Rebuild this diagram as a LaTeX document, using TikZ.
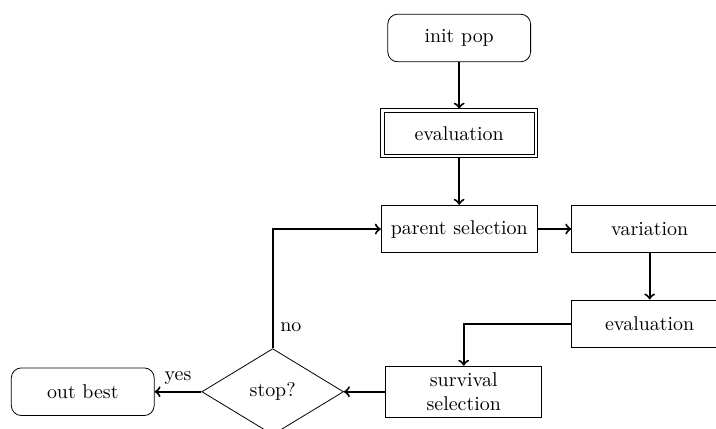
\documentclass[tikz,border=0pt]{standalone}
\usepackage{tikz}
\usetikzlibrary{shapes.geometric}

\begin{document}
\begin{tikzpicture}[
  blk/.style={draw, minimum width=2.75cm, minimum height=0.84cm, align=center},
  term/.style={draw, rounded corners=5pt, minimum width=2.52cm, minimum height=0.84cm},
  dec/.style={draw, diamond, aspect=1.65, minimum width=2.5cm, minimum height=1.52cm, inner sep=0pt},
  flow/.style={->, line width=1pt}]
  \useasboundingbox (0,0) rectangle (12.63,-7.55);
  \node[term] (init) at (8.10,-0.67) {init pop};
  \node[blk, minimum width=2.65cm, minimum height=0.74cm] (eval) at (8.10,-2.35) {evaluation};
  \draw ([shift={(-1.6pt,1.6pt)}]eval.north west) rectangle ([shift={(1.6pt,-1.6pt)}]eval.south east);
  \node[blk] (parent) at (8.10,-4.04) {parent selection};
  \node[blk] (var) at (11.46,-4.04) {variation};
  \node[blk] (evaltwo) at (11.46,-5.71) {evaluation};
  \node[blk] (surv) at (8.18,-6.91) {survival\\selection};
  \node[dec] (stop) at (4.81,-6.91) {stop?};
  \node[term] (out) at (1.46,-6.91) {out best};
  \draw[flow] (init) -- ([yshift=1.6pt]eval.north);
  \draw[flow] ([yshift=-1.6pt]eval.south) -- (parent);
  \draw[flow] (parent) -- (var);
  \draw[flow] (var) -- (evaltwo);
  \draw[flow] (evaltwo.west) -| (surv.north);
  \draw[flow] (surv) -- (stop);
  \draw[flow] (stop.north) |- node[right, pos=0.09] {no} (parent.west);
  \draw[flow] (stop) -- node[above] {yes} (out);
\end{tikzpicture}
\end{document}
